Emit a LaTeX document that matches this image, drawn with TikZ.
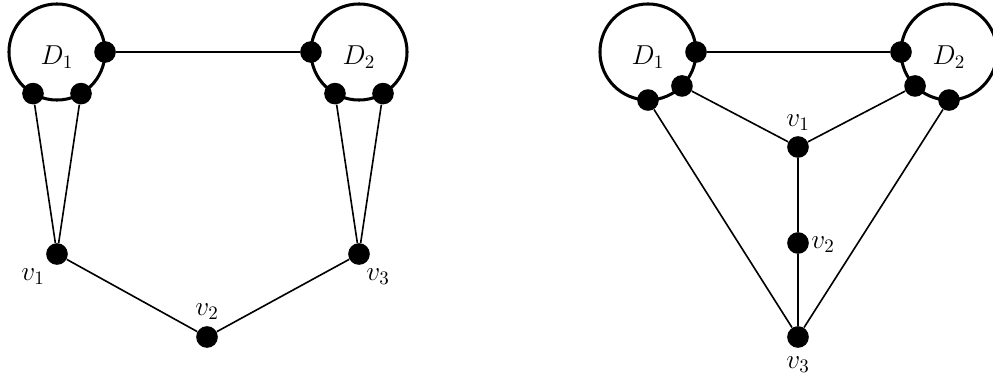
\documentclass[tikz,border=0pt]{standalone}
\usetikzlibrary{calc}

\begin{document}
\begin{tikzpicture}[x=.0185cm, y=.0185cm,
    disk/.style={circle, draw, line width=1.6pt, minimum size=1.776cm, inner sep=0, outer sep=0},
    dot/.style={circle, fill, inner sep=0, minimum size=.4cm},
    lab/.style={font=\Large},
    edge/.style={line width=.85pt}]
    \def\dy{-5}
    \useasboundingbox (0, 0) rectangle (993, 374);

    % left graph
    \node[disk] (lD1) at (57, 322) {};
    \node[disk] (lD2) at (359, 322) {};
    \node[lab] (lD1t) at ($ (lD1) + (0, \dy) $) {$D_1$};
    \node[lab] (lD2t) at ($ (lD2) + (0, \dy) $) {$D_2$};
    \node[dot] (la) at (lD1.0) {};
    \node[dot] (lb) at (lD1.240) {};
    \node[dot] (lc) at (lD1.300) {};
    \node[dot] (ld) at (lD2.180) {};
    \node[dot] (le) at (lD2.240) {};
    \node[dot] (lf) at (lD2.300) {};
    \node[dot] (lv1) at (57, 120) {};
    \node[dot] (lv2) at (207, 37) {};
    \node[dot] (lv3) at (359, 120) {};
    \node[lab] (lv1t) at ($ (lv1) + (-24, -23) $) {$v_1$};
    \node[lab] (lv2t) at ($ (lv2) + (0, 25) $) {$v_2$};
    \node[lab] (lv3t) at ($ (lv3) + (19, -23) $) {$v_3$};
    \draw[edge] (la) -- (ld);
    \draw[edge] (lb) -- (lv1);
    \draw[edge] (lc) -- (lv1);
    \draw[edge] (le) -- (lv3);
    \draw[edge] (lf) -- (lv3);
    \draw[edge] (lv1) -- (lv2) -- (lv3);

    % right graph
    \node[disk] (rD1) at (648, 322) {};
    \node[disk] (rD2) at (949, 322) {};
    \node[lab] (rD1t) at ($ (rD1) + (0, \dy) $) {$D_1$};
    \node[lab] (rD2t) at ($ (rD2) + (0, \dy) $) {$D_2$};
    \node[dot] (ra) at (rD1.0) {};
    \node[dot] (rb) at (rD1.315) {};
    \node[dot] (rc) at (rD1.270) {};
    \node[dot] (rd) at (rD2.180) {};
    \node[dot] (re) at (rD2.225) {};
    \node[dot] (rf) at (rD2.270) {};
    \node[dot] (rv1) at (798, 227) {};
    \node[dot] (rv2) at (798, 131) {};
    \node[dot] (rv3) at (798, 37) {};
    \node[lab] (rv1t) at ($ (rv1) + (0, 24) $) {$v_1$};
    \node[lab] (rv2t) at ($ (rv2) + (25, -2) $) {$v_2$};
    \node[lab] (rv3t) at ($ (rv3) + (0, -28) $) {$v_3$};
    \draw[edge] (ra) -- (rd);
    \draw[edge] (rb) -- (rv1);
    \draw[edge] (re) -- (rv1);
    \draw[edge] (rc) -- (rv3);
    \draw[edge] (rf) -- (rv3);
    \draw[edge] (rv1) -- (rv2) -- (rv3);
\end{tikzpicture}
\end{document}
